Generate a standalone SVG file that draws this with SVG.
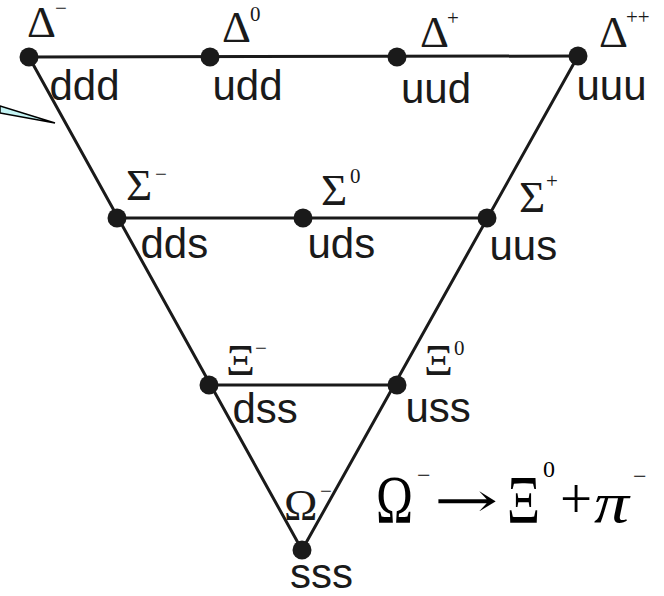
<svg xmlns="http://www.w3.org/2000/svg" width="664" height="596" viewBox="0 0 664 596">
<style>
.q{font-family:"Liberation Sans",Arial,sans-serif;font-size:42px;fill:#1a1a1a}
.g{font-family:"Liberation Serif","Times New Roman",serif;font-size:45px;fill:#1a1a1a}
.s{font-family:"Liberation Serif","Times New Roman",serif;font-size:21px;fill:#1a1a1a}
.e{font-family:"Liberation Serif","Times New Roman",serif;font-size:48px;fill:#000}
.es{font-family:"Liberation Serif","Times New Roman",serif;font-size:24px;fill:#000}
.ln{stroke:#1a1a1a;stroke-width:3;fill:none;stroke-linecap:round}
.dot{fill:#1a1a1a}
</style>
<rect width="664" height="596" fill="#fff"/>
<g id="callout">
<polygon points="0,106 55,123 0,113" fill="#c4f4f4" stroke="#000" stroke-width="1.5"/>
</g>
<g id="connectors">
<line class="ln" x1="29" y1="57" x2="578" y2="56"/>
<line class="ln" x1="29" y1="57" x2="302" y2="550"/>
<line class="ln" x1="578" y1="56" x2="302" y2="550"/>
<line class="ln" x1="117" y1="218" x2="487" y2="218"/>
<line class="ln" x1="209" y1="385" x2="397" y2="385"/>
</g>
<g id="delta-minus"><circle class="dot" cx="29" cy="57" r="9.5"/><text class="g" x="27" y="37">Δ</text><text class="s" x="55" y="15">−</text><text class="q" x="49.5" y="100">ddd</text></g>
<g id="delta-0"><circle class="dot" cx="210" cy="57" r="9.5"/><text class="g" x="222" y="42">Δ</text><text class="s" x="250" y="21">0</text><text class="q" x="212.5" y="100">udd</text></g>
<g id="delta-plus"><circle class="dot" cx="397" cy="57" r="9.5"/><text class="g" x="420" y="47">Δ</text><text class="s" x="447" y="25">+</text><text class="q" x="401" y="103">uud</text></g>
<g id="delta-plusplus"><circle class="dot" cx="578" cy="56" r="9.5"/><text class="g" x="599" y="47">Δ</text><text class="s" x="626" y="24">++</text><text class="q" x="576.5" y="100">uuu</text></g>
<g id="sigma-minus"><circle class="dot" cx="117" cy="218" r="9.5"/><text class="g" x="126" y="200">Σ</text><text class="s" x="155" y="181">−</text><text class="q" x="140.5" y="258">dds</text></g>
<g id="sigma-0"><circle class="dot" cx="303" cy="218" r="9.5"/><text class="g" x="321" y="205">Σ</text><text class="s" x="350" y="183">0</text><text class="q" x="307.5" y="258">uds</text></g>
<g id="sigma-plus"><circle class="dot" cx="487" cy="218" r="9.5"/><text class="g" x="519" y="212">Σ</text><text class="s" x="546" y="188">+</text><text class="q" x="489.5" y="260">uus</text></g>
<g id="xi-minus"><circle class="dot" cx="209" cy="385" r="9.5"/><text class="g" x="226" y="375">Ξ</text><text class="s" x="255" y="355">−</text><text class="q" x="232.5" y="423">dss</text></g>
<g id="xi-0"><circle class="dot" cx="397" cy="385" r="9.5"/><text class="g" x="424" y="375">Ξ</text><text class="s" x="454" y="355">0</text><text class="q" x="405.5" y="422">uss</text></g>
<g id="omega-minus"><circle class="dot" cx="302" cy="550" r="9.5"/><text class="g" x="284" y="520">Ω</text><text class="s" x="320" y="498">−</text><text class="q" x="290" y="588">sss</text></g>
<g id="equation">
<g transform="translate(0,522) scale(1,1.4)">
<text class="e" x="376" y="0" textLength="37" lengthAdjust="spacingAndGlyphs">Ω</text>
<text class="e" x="507" y="0" textLength="33" lengthAdjust="spacingAndGlyphs">Ξ</text>
</g>
<text class="es" x="417" y="483">−</text>
<text class="es" x="543" y="477">0</text>
<g transform="translate(434,517) scale(1.6,1)"><text x="0" y="0" style="font-family:'DejaVu Serif',serif;font-size:48px">→</text></g>
<text class="e" x="560" y="518" style="font-size:57px">+</text>
<text class="e" x="594" y="522" font-style="italic" style="font-size:58px" textLength="35" lengthAdjust="spacingAndGlyphs">π</text>
<text class="es" x="633" y="484">−</text>
</g>
</svg>
